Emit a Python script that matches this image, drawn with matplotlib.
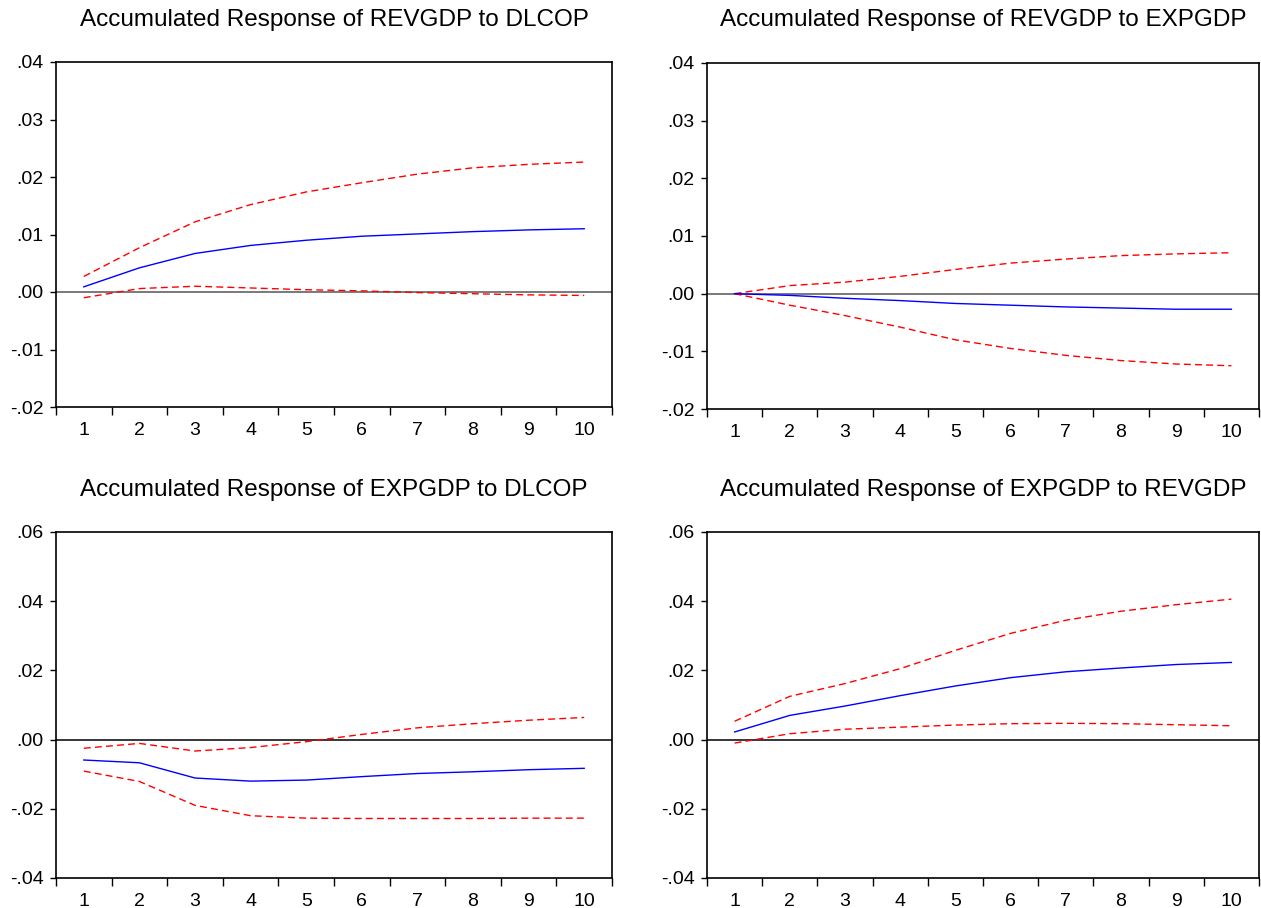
"""
Accumulated impulse responses (EViews style), 2x2 panels
"""

import numpy as np
import matplotlib.pyplot as plt
from matplotlib.ticker import FuncFormatter

plt.rcParams['font.family'] = ['Liberation Sans', 'DejaVu Sans']

periods = np.arange(1, 11)

# REVGDP <- DLCOP
rev_dlcop = [0.0009, 0.0042, 0.0067, 0.0081, 0.0090, 0.0097, 0.0101, 0.0105, 0.0108, 0.0110]
rev_dlcop_hi = [0.0027, 0.0077, 0.0122, 0.0152, 0.0174, 0.0190, 0.0205, 0.0216, 0.0222, 0.0226]
rev_dlcop_lo = [-0.0010, 0.0006, 0.0010, 0.0007, 0.0004, 0.0002, -0.0001, -0.0003, -0.0005, -0.0006]

# REVGDP <- EXPGDP
rev_exp = [0.0, -0.0003, -0.0008, -0.0012, -0.0017, -0.0020, -0.0023, -0.0025, -0.0027, -0.0027]
rev_exp_hi = [0.0, 0.0014, 0.0020, 0.0030, 0.0042, 0.0053, 0.0060, 0.0066, 0.0069, 0.0071]
rev_exp_lo = [0.0, -0.0020, -0.0038, -0.0058, -0.0080, -0.0095, -0.0107, -0.0116, -0.0122, -0.0125]

# EXPGDP <- DLCOP
exp_dlcop = [-0.0059, -0.0067, -0.0111, -0.0120, -0.0117, -0.0107, -0.0098, -0.0093, -0.0087, -0.0083]
exp_dlcop_hi = [-0.0025, -0.0011, -0.0033, -0.0023, -0.0006, 0.0015, 0.0034, 0.0046, 0.0056, 0.0064]
exp_dlcop_lo = [-0.0091, -0.0121, -0.0190, -0.0220, -0.0227, -0.0228, -0.0228, -0.0228, -0.0227, -0.0227]

# EXPGDP <- REVGDP
exp_rev = [0.0022, 0.0070, 0.0097, 0.0127, 0.0155, 0.0179, 0.0196, 0.0207, 0.0217, 0.0223]
exp_rev_hi = [0.0053, 0.0125, 0.0162, 0.0205, 0.0258, 0.0307, 0.0345, 0.0371, 0.0390, 0.0406]
exp_rev_lo = [-0.0010, 0.0017, 0.0030, 0.0036, 0.0042, 0.0046, 0.0047, 0.0046, 0.0043, 0.0040]

titles = ['Accumulated Response of REVGDP to DLCOP',
          'Accumulated Response of REVGDP to EXPGDP',
          'Accumulated Response of EXPGDP to DLCOP',
          'Accumulated Response of EXPGDP to REVGDP']

W, H = 1261, 908
# panel boxes in pixels: left, right, top, bottom
boxes = [(56, 612, 62, 407), (707, 1259, 63, 409),
         (56, 612, 532, 878), (707, 1259, 532, 878)]
title_y = [26, 26, 496, 496]
zero_col = ['#555555', '#555555', 'black', 'black']

panels = [
    (rev_dlcop, rev_dlcop_hi, rev_dlcop_lo, (-0.02, 0.04), np.arange(-0.02, 0.041, 0.01)),
    (rev_exp, rev_exp_hi, rev_exp_lo, (-0.02, 0.04), np.arange(-0.02, 0.041, 0.01)),
    (exp_dlcop, exp_dlcop_hi, exp_dlcop_lo, (-0.04, 0.06), np.arange(-0.04, 0.061, 0.02)),
    (exp_rev, exp_rev_hi, exp_rev_lo, (-0.04, 0.06), np.arange(-0.04, 0.061, 0.02)),
]


def fmt(v, pos):
    if abs(v) < 1e-9:
        return '.00'
    return f'{v:.2f}'.replace('0.', '.')


fig = plt.figure(figsize=(W / 100, H / 100), dpi=100)

for i, (mid, hi, lo, ylim, yt) in enumerate(panels):
    l, r, t, b = boxes[i]
    ax = fig.add_axes([l / W, 1 - b / H, (r - l) / W, (b - t) / H])

    ax.axhline(0, color=zero_col[i], lw=1.1)
    ax.plot(periods, hi, color='red', lw=1.0, ls=(0, (5, 3)))
    ax.plot(periods, lo, color='red', lw=1.0, ls=(0, (5, 3)))
    ax.plot(periods, mid, color='blue', lw=1.0)

    ax.set_xlim(0.5, 10.5)
    ax.set_ylim(*ylim)
    ax.set_yticks(yt)
    ax.yaxis.set_major_formatter(FuncFormatter(fmt))

    # tick marks between periods, labels at the periods
    ax.set_xticks(np.arange(0.5, 11, 1))
    ax.set_xticklabels([])
    ax.set_xticks(periods, minor=True)
    ax.set_xticklabels([str(p) for p in periods], minor=True)
    ax.tick_params(axis='x', which='major', direction='out', length=6, width=1.0)
    ax.tick_params(axis='x', which='minor', length=0, pad=11, labelsize=14)
    ax.tick_params(axis='y', direction='out', length=4, width=1.0, pad=5, labelsize=14)

    for sp in ax.spines.values():
        sp.set_linewidth(1.2)

    fig.text((l + r) / 2 / W, 1 - title_y[i] / H, titles[i],
             ha='center', va='baseline', fontsize=17.5)

plt.savefig('out.png', dpi=100)
plt.close()
